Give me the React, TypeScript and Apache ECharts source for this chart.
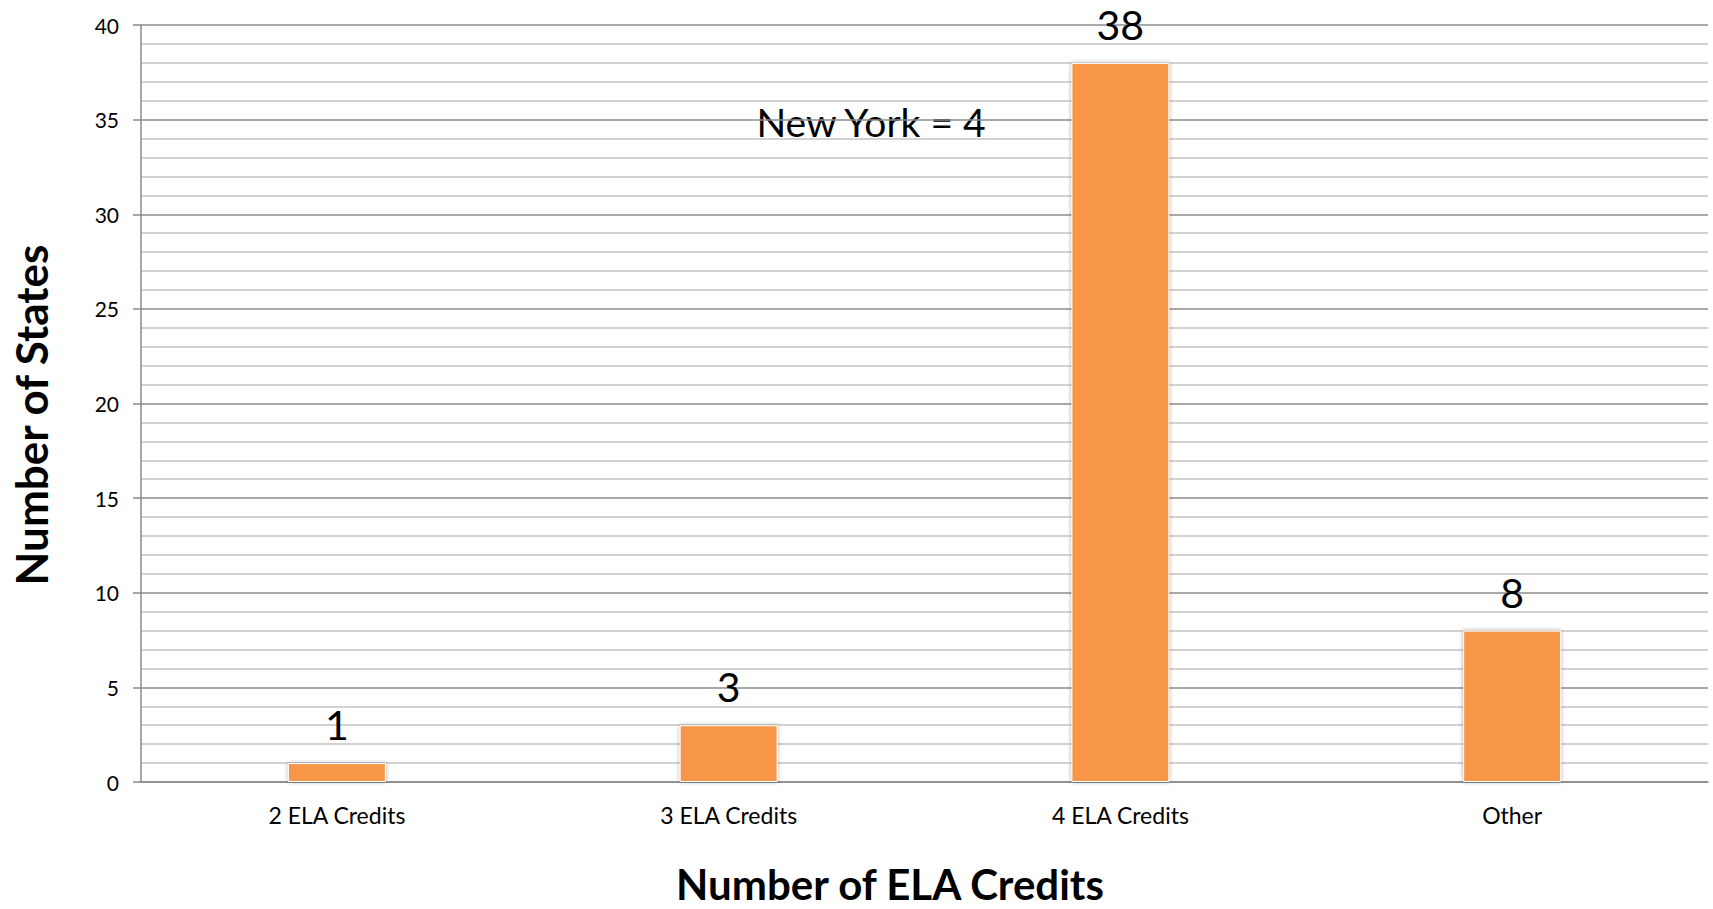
import React, { useEffect, useRef } from "react";
import * as echarts from "echarts";

const categories = ["2 ELA Credits", "3 ELA Credits", "4 ELA Credits", "Other"];
const states = [1, 3, 38, 8];
const yTitle = "Number of States";
const xTitle = "Number of ELA Credits";
const note = "New York = 4";

const FONT = "Lato, 'Open Sans', sans-serif";

export default function App() {
  const ref = useRef<HTMLDivElement>(null);
  useEffect(() => {
    document.body.style.margin = "0";
    const chart = echarts.init(ref.current!, null, { renderer: "svg" });
    chart.setOption({
      animation: false,
      backgroundColor: "#ffffff",
      grid: { left: 141, right: 5, top: 25, bottom: 127, containLabel: false },
      xAxis: {
        type: "category",
        data: categories,
        axisLine: { show: true, lineStyle: { color: "#8a8a8a", width: 1.5 } },
        axisTick: { show: false },
        axisLabel: { color: "#000", fontSize: 23, fontFamily: FONT, margin: 21 },
        splitLine: { show: false },
      },
      yAxis: {
        type: "value",
        min: 0,
        max: 40,
        interval: 5,
        axisLine: { show: true, lineStyle: { color: "#8a8a8a", width: 1.5 } },
        axisTick: { show: true, length: 8, lineStyle: { color: "#8a8a8a", width: 1.5 } },
        axisLabel: { color: "#000", fontSize: 21, fontFamily: FONT, margin: 22 },
        splitLine: { show: true, lineStyle: { color: "#8c8c8c", width: 1.5 } },
        minorTick: { show: false, splitNumber: 5 },
        minorSplitLine: { show: true, lineStyle: { color: "#c3c3c3", width: 1.5 } },
      },
      series: [
        {
          type: "bar",
          data: states,
          barWidth: "25%",
          itemStyle: {
            color: "#F79646",
            borderColor: "#ffffff",
            borderWidth: 1,
            shadowColor: "rgba(0,0,0,0.35)",
            shadowBlur: 4,
          },
          label: {
            show: true,
            position: "top",
            distance: 18,
            color: "#000",
            fontSize: 41,
            fontFamily: FONT,
          },
        },
      ],
      graphic: [
        {
          type: "text",
          x: 871,
          y: 122,
          style: {
            text: note,
            fontSize: 39,
            fontFamily: FONT,
            fill: "#000",
            textAlign: "center",
            textVerticalAlign: "middle",
          },
        },
        {
          type: "text",
          x: 31,
          y: 415,
          rotation: Math.PI / 2,
          style: {
            text: yTitle,
            fontSize: 44,
            fontWeight: "bold",
            fontFamily: FONT,
            fill: "#000",
            textAlign: "center",
            textVerticalAlign: "middle",
          },
        },
        {
          type: "text",
          x: 890,
          y: 884,
          style: {
            text: xTitle,
            fontSize: 42,
            fontWeight: "bold",
            fontFamily: FONT,
            fill: "#000",
            textAlign: "center",
            textVerticalAlign: "middle",
          },
        },
      ],
    });
    return () => chart.dispose();
  }, []);
  return <div ref={ref} style={{ width: 1713, height: 909 }} />;
}
